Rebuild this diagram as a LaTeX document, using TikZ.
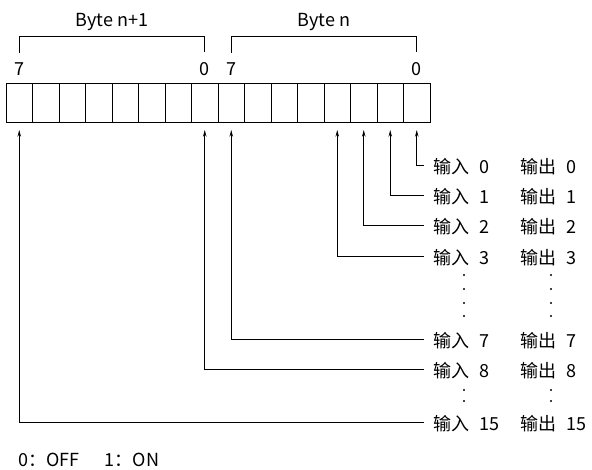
\documentclass[tikz,border=0pt]{standalone}
\usepackage{fontspec}
\newfontfamily\cjk{Noto Sans CJK SC}
\usetikzlibrary{arrows.meta,positioning,calc}

\begin{document}
\begin{tikzpicture}[
x=0.75pt, y=-0.75pt,
line width=0.65pt,
cell/.style={draw, rectangle, minimum width=19.875pt, minimum height=29.25pt, inner sep=0pt, outer sep=0pt},
num/.style={inner sep=0pt, font=\cjk\fontsize{13.5}{16}\selectfont},
lbl/.style={anchor=west, inner sep=0pt, font=\cjk\fontsize{13.5}{16}\selectfont},
arrow/.style={-{Stealth[length=5pt,width=2.6pt]}, shorten >=6pt, shorten <=6.75pt}
]
\useasboundingbox (0,0) rectangle (592,469);

\foreach \b in {0,...,15}
  \node[cell] (b\b) at ({6+26.5*(15.5-\b)},102.5) {};

\node[num, above=5.5pt of b15] (h15) {7};
\node[num, above=5.5pt of b8] (h8) {0};
\node[num, above=5.5pt of b7] (h7) {7};
\node[num, above=5.5pt of b0] (h0) {0};

\draw ([yshift=7pt]h15.north) |- ([yshift=19pt]h8.north) -- ([yshift=7pt]h8.north);
\draw ([yshift=7pt]h7.north) |- ([yshift=19pt]h0.north) -- ([yshift=7pt]h0.north);
\node[num] (byte1) at ($(h15)!0.5!(h8)+(0,-47)$) {Byte n+1};
\node[num] (byte0) at ($(h7)!0.5!(h0)+(0,-47)$) {Byte n};

\foreach \b/\y in {0/167,1/197,2/227,3/258,7/341,8/371,15/424} {
  \node[lbl] (in\b) at (433,\y) {输入\hspace{0.55em}\b};
  \node[lbl] (out\b) at (520,\y) {输出\hspace{0.55em}\b};
  \draw[arrow] ([yshift=1pt]in\b.west) -| (b\b.south);
}

\foreach \y in {275,289,303,316,390,401} {
  \fill (464,\y) circle (1.1);
  \fill (551,\y) circle (1.1);
}

\node[lbl] (note) at (18,460) {0：OFF\hspace{1.4em}1：ON};

\end{tikzpicture}
\end{document}
